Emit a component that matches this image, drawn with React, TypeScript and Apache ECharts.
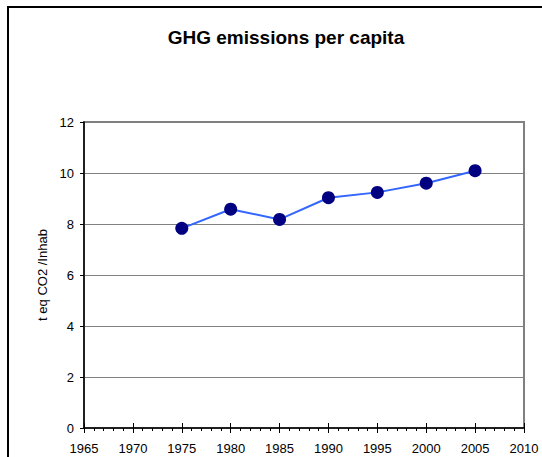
import React, { useEffect, useRef } from "react";
import * as echarts from "echarts";

const years = [1975, 1980, 1985, 1990, 1995, 2000, 2005];
const emissions = [7.83, 8.58, 8.18, 9.03, 9.24, 9.6, 10.09];
const titleText = "GHG emissions per capita";
const yAxisName = "t eq CO2 /Inhab";

export default function App() {
  const ref = useRef<HTMLDivElement>(null);
  useEffect(() => {
    if (!ref.current) return;
    const chart = echarts.init(ref.current, undefined, { renderer: "svg" });
    const font = "Liberation Sans, Arial, sans-serif";
    chart.setOption({
      animation: false,
      backgroundColor: "#ffffff",
      title: {
        text: titleText,
        left: 281,
        textAlign: "center",
        top: 23,
        textStyle: { fontFamily: font, fontSize: 19, fontWeight: "bold", color: "#000" },
      },
      grid: { left: 84, top: 122, right: 18, bottom: 29, show: true, borderColor: "#808080", borderWidth: 2, backgroundColor: "#fff" },
      xAxis: [
        {
          type: "value",
          min: 1965,
          max: 2010,
          interval: 5,
          position: "bottom",
          axisLine: { show: true, onZero: false, lineStyle: { color: "#000", width: 1.5 } },
          axisTick: { show: true, inside: false, length: 5, lineStyle: { color: "#000", width: 1 } },
          minorTick: { show: true, splitNumber: 5, length: 3, lineStyle: { color: "#000", width: 1 } },
          splitLine: { show: false },
          axisLabel: { fontFamily: font, fontSize: 13, color: "#000", margin: 14, formatter: (v: number) => String(v) },
        },
        {
          type: "value",
          min: 1965,
          max: 2010,
          interval: 5,
          position: "bottom",
          offset: 0,
          axisLine: { show: false },
          axisTick: { show: true, inside: true, length: 5, lineStyle: { color: "#000", width: 1 } },
          splitLine: { show: false },
          axisLabel: { show: false },
        },
      ],
      yAxis: {
        type: "value",
        min: 0,
        max: 12,
        interval: 2,
        name: yAxisName,
        nameLocation: "middle",
        nameGap: 33,
        nameTextStyle: { fontFamily: font, fontSize: 13, color: "#000" },
        axisLine: { show: true, lineStyle: { color: "#000", width: 1.5 } },
        axisTick: { show: true, inside: false, length: 4, lineStyle: { color: "#000" } },
        splitLine: { show: true, lineStyle: { color: "#808080", width: 1 } },
        axisLabel: { fontFamily: font, fontSize: 13, color: "#000", margin: 10 },
      },
      series: [
        {
          type: "line",
          xAxisIndex: 0,
          data: years.map((y, i) => [y, emissions[i]]),
          symbol: "circle",
          symbolSize: 13,
          lineStyle: { color: "#3366ff", width: 2 },
          itemStyle: { color: "#000080" },
        },
      ],
    });
    return () => chart.dispose();
  }, []);
  return (
    <div style={{ position: "fixed", left: 0, top: 0, width: 542, height: 457, overflow: "hidden", background: "#fff" }}>
      <div ref={ref} style={{ position: "absolute", left: 0, top: 0, width: 542, height: 457 }} />
      <div
        style={{
          position: "absolute",
          left: 7,
          top: 6,
          width: 600,
          height: 600,
          border: "2px solid #000",
          pointerEvents: "none",
        }}
      />
    </div>
  );
}
